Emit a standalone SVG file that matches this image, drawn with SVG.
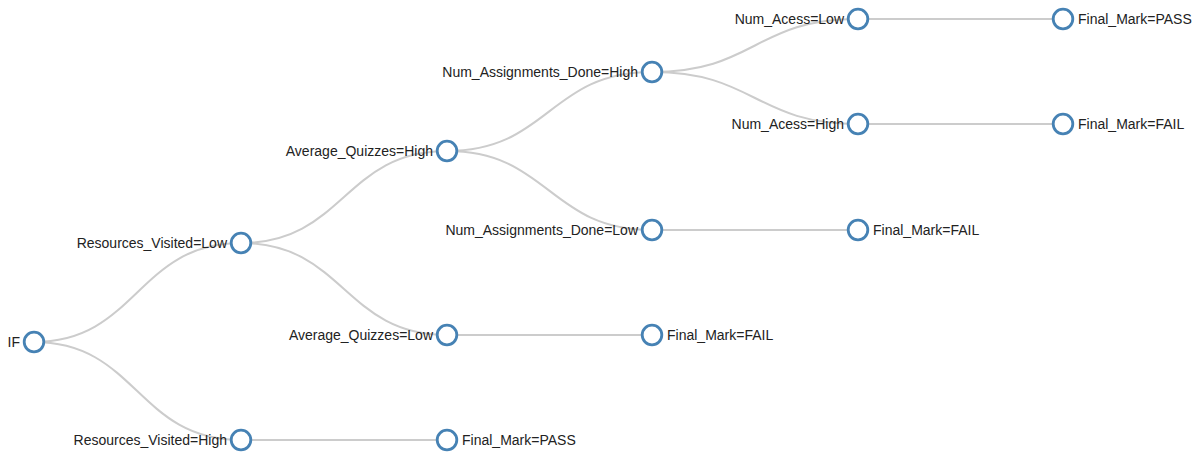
<svg xmlns="http://www.w3.org/2000/svg" width="1192" height="453" viewBox="0 0 1192 453">
<style>
.link{fill:none;stroke:#cccccc;stroke-width:2}
.node circle{fill:#ffffff;stroke:#4682b4;stroke-width:2.8}
.node text{font-family:"Liberation Sans",Arial,sans-serif;font-size:14px;fill:#222222;dominant-baseline:central}
.l{text-anchor:end}
.r{text-anchor:start}
</style>
<rect width="1192" height="453" fill="#ffffff"/>
<g id="links">
<path class="link" d="M34,342 C137,342 137,243 241,243"/>
<path class="link" d="M34,342 C137,342 137,440 241,440"/>
<path class="link" d="M241,243 C344,243 344,151 447,151"/>
<path class="link" d="M241,243 C344,243 344,335 447,335"/>
<path class="link" d="M241,440 L447,440"/>
<path class="link" d="M447,151 C549,151 549,72 652,72"/>
<path class="link" d="M447,151 C549,151 549,230 652,230"/>
<path class="link" d="M447,335 L652,335"/>
<path class="link" d="M652,72 C755,72 755,19 858,19"/>
<path class="link" d="M652,72 C755,72 755,124 858,124"/>
<path class="link" d="M652,230 L858,230"/>
<path class="link" d="M858,19 L1063,19"/>
<path class="link" d="M858,124 L1063,124"/>
</g>
<g id="n-if" class="node"><circle cx="34" cy="342" r="9.8"/><text class="l" x="20" y="342">IF</text></g>
<g id="n-rv-low" class="node"><circle cx="241" cy="243" r="9.8"/><text class="l" x="227" y="243">Resources_Visited=Low</text></g>
<g id="n-rv-high" class="node"><circle cx="241" cy="440" r="9.8"/><text class="l" x="227" y="440">Resources_Visited=High</text></g>
<g id="n-aq-high" class="node"><circle cx="447" cy="151" r="9.8"/><text class="l" x="433" y="151">Average_Quizzes=High</text></g>
<g id="n-aq-low" class="node"><circle cx="447" cy="335" r="9.8"/><text class="l" x="433" y="335">Average_Quizzes=Low</text></g>
<g id="n-fm-pass-1" class="node"><circle cx="447" cy="440" r="9.8"/><text class="r" x="462" y="440">Final_Mark=PASS</text></g>
<g id="n-nad-high" class="node"><circle cx="652" cy="72" r="9.8"/><text class="l" x="638" y="72">Num_Assignments_Done=High</text></g>
<g id="n-nad-low" class="node"><circle cx="652" cy="230" r="9.8"/><text class="l" x="638" y="230">Num_Assignments_Done=Low</text></g>
<g id="n-fm-fail-1" class="node"><circle cx="652" cy="335" r="9.8"/><text class="r" x="667" y="335">Final_Mark=FAIL</text></g>
<g id="n-na-low" class="node"><circle cx="858" cy="19" r="9.8"/><text class="l" x="844" y="19">Num_Acess=Low</text></g>
<g id="n-na-high" class="node"><circle cx="858" cy="124" r="9.8"/><text class="l" x="844" y="124">Num_Acess=High</text></g>
<g id="n-fm-fail-2" class="node"><circle cx="858" cy="230" r="9.8"/><text class="r" x="873" y="230">Final_Mark=FAIL</text></g>
<g id="n-fm-pass-2" class="node"><circle cx="1063" cy="19" r="9.8"/><text class="r" x="1078" y="19">Final_Mark=PASS</text></g>
<g id="n-fm-fail-3" class="node"><circle cx="1063" cy="124" r="9.8"/><text class="r" x="1078" y="124">Final_Mark=FAIL</text></g>
</svg>
